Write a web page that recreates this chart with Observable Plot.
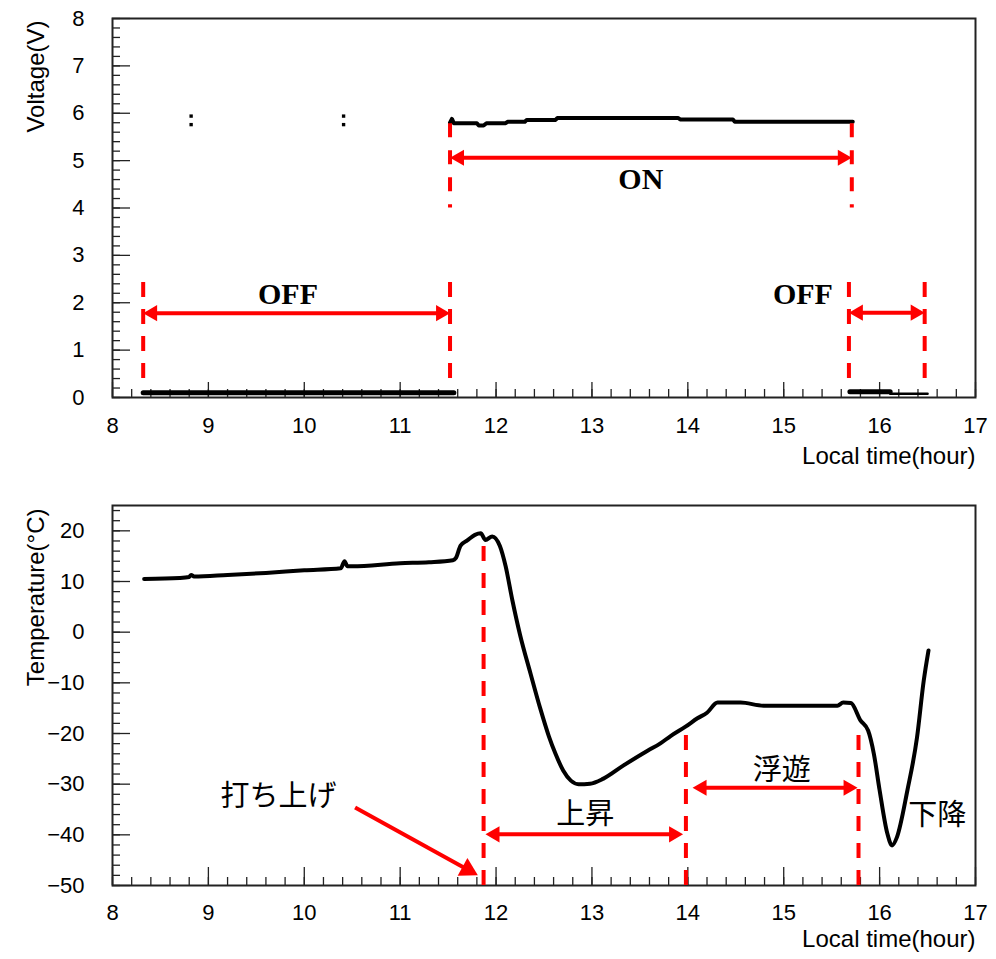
<!DOCTYPE html>
<html><head><meta charset="utf-8">
<script src="https://cdn.jsdelivr.net/npm/d3@7"></script>
<script src="https://cdn.jsdelivr.net/npm/@observablehq/plot@0.6"></script>
<style>
html,body{margin:0;padding:0;background:#fff;overflow:hidden}
svg{display:block}
</style></head><body><div id="chart"></div>
<script>
// ---------- tick values ----------
const xMajorTicks = [8, 9, 10, 11, 12, 13, 14, 15, 16, 17];
const xMinorTicks = d3.range(40, 86).map(d => d / 5);
const vMajorTicks = [0, 1, 2, 3, 4, 5, 6, 7, 8];
const vMinorTicks = d3.range(0, 41).map(d => d / 5);
const tMajorTicks = [-50, -40, -30, -20, -10, 0, 10, 20];
const tMinorTicks = d3.range(-25, 13).map(d => d * 2);

// ---------- voltage data (hour, V) ----------
const vOffTime  = [8.32, 11.56];
const vOffValue = [0.1, 0.1];
const vOnTime  = [11.52, 11.54, 11.56, 11.8, 11.82, 11.87, 11.9, 12.1, 12.12, 12.3, 12.32, 12.62, 12.64, 13.9, 13.92, 14.47, 14.49, 15.72];
const vOnValue = [5.80, 5.88, 5.79, 5.79, 5.74, 5.74, 5.79, 5.79, 5.82, 5.82, 5.86, 5.86, 5.90, 5.90, 5.87, 5.87, 5.82, 5.82];
const vEndTime  = [15.69, 16.11];
const vEndValue = [0.12, 0.12];
const vTailTime  = [16.11, 16.5];
const vTailValue = [0.08, 0.08];
const vSpotTime  = [8.82, 8.82, 10.41, 10.41];
const vSpotValue = [5.94, 5.76, 5.94, 5.76];

// ---------- temperature data (hour, °C) ----------
const tTime = [8.33, 8.7, 8.8, 8.82, 8.85, 9.2, 9.6, 10.0, 10.38, 10.42, 10.45, 10.5, 11.0, 11.3, 11.55, 11.58, 11.63, 11.70, 11.78, 11.84, 11.89, 11.96, 12.04, 12.10, 12.17, 12.25, 12.36, 12.46, 12.55, 12.62, 12.70, 12.78, 12.86, 12.98, 13.12, 13.33, 13.58, 13.71, 13.82, 13.98, 14.10, 14.20, 14.31, 14.55, 14.79, 15.56, 15.62, 15.70, 15.80, 15.88, 15.94, 16.00, 16.08, 16.13, 16.18, 16.29, 16.39, 16.46, 16.51];
const tValue = [10.5, 10.7, 10.9, 11.3, 11.0, 11.3, 11.7, 12.2, 12.6, 14.0, 13.0, 13.0, 13.6, 13.8, 14.2, 14.6, 17.1, 18.1, 19.2, 19.5, 18.2, 18.9, 17.0, 13.0, 6.3, -0.5, -8.2, -15.0, -20.5, -24.0, -27.3, -29.3, -30.0, -29.9, -28.9, -26.3, -23.4, -22.0, -20.5, -18.6, -17.0, -15.9, -13.9, -13.9, -14.5, -14.5, -13.9, -14.0, -17.4, -19.4, -24.0, -31.2, -39.7, -42.1, -40.5, -31.2, -20.8, -9.6, -3.6];

// ---------- voltage annotations ----------
const offDashTimes = [8.32, 11.52, 15.68, 16.47];
const offDashTop = 2.43, offDashBottom = 0.4;
const onDashTimes = [11.52, 15.71];
const onDashTop = 5.78, onDashBottom = 4.0;
const spanLabels = ["OFF", "ON", "OFF"];
const spanFrom = [8.32, 11.52, 15.68];
const spanTo = [11.52, 15.71, 16.47];
const spanArrowV = [1.78, 5.06, 1.79];
const spanLabelTime = [9.83, 13.51, 15.2];
const spanLabelV = [2.17, 4.6, 2.17];

// ---------- temperature annotations ----------
const phaseDashTimes = [11.87, 13.98, 15.78];
const phaseDashTop = [18.1, -19.8, -19.8];
const phaseLabels = ["上昇", "浮遊"];
const phaseFrom = [11.89, 14.05];
const phaseTo = [13.95, 15.77];
const phaseArrowT = [-39.9, -30.7];
const phaseLabelTime = [12.93, 14.98];
const phaseLabelT = [-36.0, -27.3];
const descentLabel = "下降", descentTime = 16.6, descentT = -36.2;
const launchLabel = "打ち上げ", launchLabelTime = 9.73, launchLabelT = -32.4;
const launchFrom = [10.53, -34.6], launchTo = [11.81, -48.0];

// ---------- layout ----------
const W = 996, ML = 112, MR = 21;
const innerW = W - ML - MR;
const H1 = 480, MT1 = 18, MB1 = 83, innerH1 = H1 - MT1 - MB1;
const H2 = 479, MT2 = 25, MB2 = 74, innerH2 = H2 - MT2 - MB2;
const sansFont = "'Liberation Sans', Arial, Helvetica, sans-serif";
const pxPerHour = innerW / 9;
const minus = d => (d < 0 ? "\u2212" + Math.abs(d) : String(d));
const titleStyle = {fontSize: 24, fill: "black"};
const tickLabelStyle = {fontSize: 22, fill: "black", fontFamily: sansFont};

function doubleArrows(rows, px) {
  const off = 10 / px;
  return [
    Plot.link(rows, {x1: d => d.from + off, x2: d => d.to - off, y1: "y", y2: "y", stroke: "red", strokeWidth: 4}),
    Plot.dot(rows, {x: "from", y: "y", symbol: "triangle", r: 6, rotate: -90, dx: 9.3, fill: "red"}),
    Plot.dot(rows, {x: "to", y: "y", symbol: "triangle", r: 6, rotate: 90, dx: -9.3, fill: "red"})
  ];
}

function frameAndTicks(yMinor, yMajor, innerH, xMajorLen, xPad) {
  return [
    Plot.ruleX(xMinorTicks, {insetTop: innerH - 8, stroke: "#222", strokeWidth: 1.3}),
    Plot.ruleX(xMajorTicks, {insetTop: innerH - xMajorLen, stroke: "#222", strokeWidth: 1.3}),
    Plot.ruleY(yMinor, {insetRight: innerW - 8, stroke: "#222", strokeWidth: 1.3}),
    Plot.ruleY(yMajor, {insetRight: innerW - 18, stroke: "#222", strokeWidth: 1.3}),
    Plot.frame({stroke: "#222", strokeWidth: 2}),
    Plot.text(xMajorTicks, {x: d => d, text: minus, frameAnchor: "bottom", lineAnchor: "top", dy: xPad, ...tickLabelStyle}),
    Plot.text(yMajor, {y: d => d, text: minus, frameAnchor: "left", textAnchor: "end", dx: -28, ...tickLabelStyle})
  ];
}

// ---------- top plot ----------
const off = vOffTime.map((t, i) => ({t, v: vOffValue[i]}));
const on = vOnTime.map((t, i) => ({t, v: vOnValue[i]}));
const end = vEndTime.map((t, i) => ({t, v: vEndValue[i]}));
const tail = vTailTime.map((t, i) => ({t, v: vTailValue[i]}));
const spots = vSpotTime.map((t, i) => ({t, v: vSpotValue[i]}));
const spanRows = spanLabels.map((l, i) => ({label: l, from: spanFrom[i], to: spanTo[i], y: spanArrowV[i], lx: spanLabelTime[i], ly: spanLabelV[i]}));

const topPlot = Plot.plot({
  width: W, height: H1,
  marginLeft: ML, marginRight: MR, marginTop: MT1, marginBottom: MB1,
  x: {domain: [8, 17], axis: null},
  y: {domain: [0, 8], axis: null},
  style: {fontFamily: sansFont, fontSize: "21px", background: "white", color: "black", overflow: "visible"},
  marks: [
    ...frameAndTicks(vMinorTicks, vMajorTicks, innerH1, 15, 20),
    Plot.text(["Local time(hour)"], {frameAnchor: "bottom-right", textAnchor: "end", dy: 66, ...titleStyle}),
    Plot.text(["Voltage(V)"], {frameAnchor: "top-left", rotate: -90, textAnchor: "end", dx: -86, dy: 2, ...titleStyle}),
    Plot.line(off, {x: "t", y: "v", stroke: "black", strokeWidth: 5}),
    Plot.line(on, {x: "t", y: "v", stroke: "black", strokeWidth: 4}),
    Plot.line(end, {x: "t", y: "v", stroke: "black", strokeWidth: 5}),
    Plot.line(tail, {x: "t", y: "v", stroke: "black", strokeWidth: 2.5}),
    Plot.dot(spots, {x: "t", y: "v", symbol: "square", r: 1.9, fill: "black"}),
    Plot.ruleX(offDashTimes, {y1: offDashTop, y2: offDashBottom, stroke: "red", strokeWidth: 4, strokeDasharray: "15,12"}),
    Plot.ruleX(onDashTimes, {y1: onDashTop, y2: onDashBottom, stroke: "red", strokeWidth: 4, strokeDasharray: "14,13"}),
    ...doubleArrows(spanRows, pxPerHour),
    Plot.text(spanRows, {x: "lx", y: "ly", text: "label", fontFamily: "'Liberation Serif', 'Times New Roman', serif", fontWeight: "bold", fontSize: 30, fill: "black"})
  ]
});

// ---------- bottom plot ----------
const temp = tTime.map((t, i) => ({t, v: tValue[i]}));
const phaseDash = phaseDashTimes.map((t, i) => ({t, top: phaseDashTop[i]}));
const phaseRows = phaseLabels.map((l, i) => ({label: l, from: phaseFrom[i], to: phaseTo[i], y: phaseArrowT[i], lx: phaseLabelTime[i], ly: phaseLabelT[i]}));
const pxPerDeg = innerH2 / 75;
const adx = (launchTo[0] - launchFrom[0]) * pxPerHour;
const ady = -(launchTo[1] - launchFrom[1]) * pxPerDeg;
const ang = Math.atan2(ady, adx);
const headR = 7.5;
const halfY = Math.sqrt(Math.PI * headR * headR / (3 * Math.sqrt(3)));
const tipOff = 2 * halfY;
const lineEnd = [launchTo[0] - (tipOff * 1.2 * Math.cos(ang)) / pxPerHour, launchTo[1] + (tipOff * 1.2 * Math.sin(ang)) / pxPerDeg];
const jpFont = "'Noto Sans CJK JP', 'Noto Sans CJK SC', sans-serif";

const bottomPlot = Plot.plot({
  width: W, height: H2,
  marginLeft: ML, marginRight: MR, marginTop: MT2, marginBottom: MB2,
  x: {domain: [8, 17], axis: null},
  y: {domain: [-50, 25], axis: null},
  style: {fontFamily: sansFont, fontSize: "21px", background: "white", color: "black", overflow: "visible"},
  marks: [
    ...frameAndTicks(tMinorTicks, tMajorTicks, innerH2, 18, 19),
    Plot.text(["Local time(hour)"], {frameAnchor: "bottom-right", textAnchor: "end", dy: 61, ...titleStyle}),
    Plot.text(["Temperature(°C)"], {frameAnchor: "top-left", rotate: -90, textAnchor: "end", dx: -86, dy: 3, ...titleStyle}),
    Plot.line(temp, {x: "t", y: "v", stroke: "black", strokeWidth: 4, curve: "monotone-x", strokeLinejoin: "round"}),
    Plot.ruleX(phaseDash, {x: "t", y1: -50, y2: "top", stroke: "red", strokeWidth: 4, strokeDasharray: "15,12"}),
    ...doubleArrows(phaseRows, pxPerHour),
    Plot.text(phaseRows, {x: "lx", y: "ly", text: "label", fontFamily: jpFont, fontSize: 29, fill: "black"}),
    Plot.text([descentLabel], {x: descentTime, y: descentT, fontFamily: jpFont, fontSize: 29, fill: "black"}),
    Plot.text([launchLabel], {x: launchLabelTime, y: launchLabelT, fontFamily: jpFont, fontSize: 29, fill: "black"}),
    Plot.link([0], {x1: launchFrom[0], y1: launchFrom[1], x2: lineEnd[0], y2: lineEnd[1], stroke: "red", strokeWidth: 4}),
    Plot.dot([0], {x: launchTo[0], y: launchTo[1], symbol: "triangle", r: headR, rotate: 90 + ang * 180 / Math.PI,
      dx: -tipOff * Math.cos(ang), dy: -tipOff * Math.sin(ang), fill: "red"})
  ]
});

const chart = document.getElementById("chart");
chart.appendChild(topPlot);
chart.appendChild(bottomPlot);
</script>
</body></html>
